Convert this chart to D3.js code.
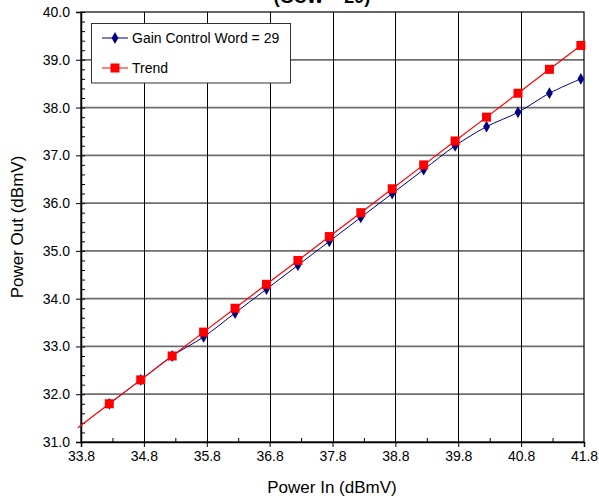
<!DOCTYPE html>
<html><head><meta charset="utf-8">
<script src="https://cdn.jsdelivr.net/npm/d3@7/dist/d3.min.js"></script>
<style>body{margin:0;background:#fff}svg{display:block;font-family:Arial,"Liberation Sans",sans-serif}</style>
</head><body>
<script>
const xIn = [34.25,34.75,35.25,35.75,36.25,36.75,37.25,37.75,38.25,38.75,39.25,39.75,40.25,40.75,41.25,41.75];
const gcwValues = [31.8,32.3,32.8,33.2,33.7,34.2,34.7,35.2,35.7,36.2,36.7,37.2,37.6,37.9,38.3,38.6];
const trendX = [33.75,34.25,34.75,35.25,35.75,36.25,36.75,37.25,37.75,38.25,38.75,39.25,39.75,40.25,40.75,41.25,41.75];
const trendValues = [31.3,31.8,32.3,32.8,33.3,33.8,34.3,34.8,35.3,35.8,36.3,36.8,37.3,37.8,38.3,38.8,39.3];
const xTicks = [33.8,34.8,35.8,36.8,37.8,38.8,39.8,40.8,41.8];
const yTicks = [31,32,33,34,35,36,37,38,39,40];
const seriesNames = ["Gain Control Word = 29","Trend"];

const W=599,H=499;
const svg=d3.select("body").append("svg").attr("width",W).attr("height",H);
const x=d3.scaleLinear().domain([33.8,41.8]).range([81,584]);
const y=d3.scaleLinear().domain([31,40]).range([442,12]);

// title (cut off at top, as in the original)
svg.append("text").attr("x",322).attr("y",3).attr("text-anchor","middle")
  .attr("font-weight","bold").attr("font-size",18).text("(GCW = 29)");

// gridlines
svg.append("g").selectAll("line").data(yTicks.slice(1,-1)).join("line")
  .attr("x1",x(33.8)).attr("x2",x(41.8)).attr("y1",d=>y(d)).attr("y2",d=>y(d))
  .attr("stroke","#6e6e6e").attr("stroke-width",1.8);
svg.append("g").selectAll("line").data(xTicks.slice(1,-1)).join("line")
  .attr("x1",d=>Math.round(x(d))+0.5).attr("x2",d=>Math.round(x(d))+0.5).attr("y1",y(40)).attr("y2",y(31))
  .attr("stroke","#000").attr("stroke-width",1);
// plot border
svg.append("rect").attr("x",x(33.8)).attr("y",y(40)).attr("width",x(41.8)-x(33.8)).attr("height",y(31)-y(40))
  .attr("fill","none").attr("stroke","#000").attr("stroke-width",1.2);

// axes
const yMinor=d3.range(31,40.001,0.2);
const xMinor=d3.range(34.3,41.8,1);
const ax=svg.append("g").attr("transform",`translate(0,${y(31)})`)
  .call(d3.axisBottom(x).tickValues(xTicks).tickFormat(d3.format(".1f")).tickSize(5).tickPadding(4));
ax.select(".domain").attr("stroke-width",1.5);
ax.selectAll("text").attr("font-size",14).attr("fill","#000").attr("font-family","Arial, Liberation Sans, sans-serif");
svg.append("g").attr("transform",`translate(0,${y(31)})`)
  .call(d3.axisBottom(x).tickValues(xMinor).tickFormat("").tickSize(-4)).select(".domain").remove();
const ay=svg.append("g").attr("transform",`translate(${x(33.8)},0)`)
  .call(d3.axisLeft(y).tickValues(yTicks).tickFormat(d3.format(".1f")).tickSize(5).tickPadding(6));
ay.select(".domain").attr("stroke-width",1.5);
ay.selectAll("text").attr("font-size",14).attr("fill","#000").attr("font-family","Arial, Liberation Sans, sans-serif");
svg.append("g").attr("transform",`translate(${x(33.8)},0)`)
  .call(d3.axisLeft(y).tickValues(yMinor).tickFormat("").tickSize(-4)).select(".domain").remove();

// axis titles
svg.append("text").attr("x",332).attr("y",493).attr("text-anchor","middle").attr("font-size",17).text("Power In (dBmV)");
svg.append("text").attr("transform","translate(23,227) rotate(-90)").attr("text-anchor","middle").attr("font-size",17).text("Power Out (dBmV)");

// series
const gcw=xIn.map((v,i)=>[v,gcwValues[i]]);
const trend=trendX.map((v,i)=>[v,trendValues[i]]);
svg.append("path").datum(gcw).attr("fill","none").attr("stroke","#000080").attr("stroke-width",1)
  .attr("d",d3.line().x(d=>x(d[0])).y(d=>y(d[1])).curve(d3.curveCardinal.tension(0)));
const diamond=d3.symbol().type(d3.symbolDiamond).size(40);
svg.append("g").selectAll("path").data(gcw).join("path")
  .attr("transform",d=>`translate(${x(d[0])},${y(d[1])})`).attr("d",diamond).attr("fill","#000080");
svg.append("path").datum(trend).attr("fill","none").attr("stroke","#ff0000").attr("stroke-width",1.2)
  .attr("d",d3.line().x(d=>x(d[0])).y(d=>y(d[1])));
svg.append("g").selectAll("rect").data(trend.filter(d=>d[0]>=33.8)).join("rect")
  .attr("x",d=>x(d[0])-4.5).attr("y",d=>y(d[1])-4.5).attr("width",9).attr("height",9).attr("fill","#ff0000");

// legend
const lg=svg.append("g");
lg.append("rect").attr("x",91.5).attr("y",23.5).attr("width",199).attr("height",59.5).attr("fill","#fff").attr("stroke","#333").attr("stroke-width",1);
lg.append("line").attr("x1",102).attr("x2",128).attr("y1",38).attr("y2",38).attr("stroke","#000080");
lg.append("path").attr("transform","translate(115,38)").attr("d",diamond).attr("fill","#000080");
lg.append("text").attr("x",132).attr("y",43).attr("font-size",14).text(seriesNames[0]);
lg.append("line").attr("x1",102).attr("x2",128).attr("y1",68).attr("y2",68).attr("stroke","#ff0000");
lg.append("rect").attr("x",110.5).attr("y",63.5).attr("width",9).attr("height",9).attr("fill","#ff0000");
lg.append("text").attr("x",132).attr("y",73).attr("font-size",14).text(seriesNames[1]);
</script>
</body></html>
